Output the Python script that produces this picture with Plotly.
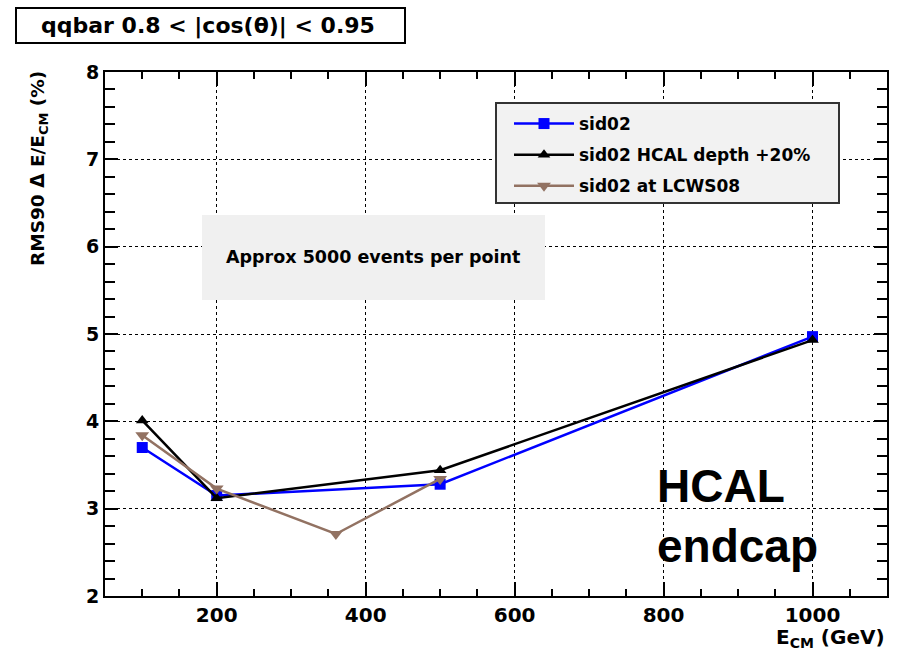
import plotly.graph_objects as go

# ---- data ----
ecm_sid02 = [100, 200, 500, 1000]
rms_sid02 = [3.70, 3.15, 3.28, 4.97]

ecm_depth = [100, 200, 500, 1000]
rms_depth = [4.01, 3.12, 3.44, 4.93]

ecm_lcws = [100, 200, 360, 500]
rms_lcws = [3.84, 3.23, 2.71, 3.34]

names = ["sid02", "sid02 HCAL depth +20%", "sid02 at LCWS08"]

FONT = "DejaVu Sans, sans-serif"
FONT2 = "Liberation Sans, Arial, sans-serif"

W, H = 901, 652
L, R, T, B = 105, 887, 72, 596  # plot area in pixels


def px(x):
    return (x - L) / (R - L)


def py(y):
    return (B - y) / (B - T)


fig = go.Figure()
fig.add_trace(go.Scatter(x=ecm_sid02, y=rms_sid02, name=names[0], mode="lines+markers",
                         legendgroup="a",
                         line=dict(color="#0000ff", width=2.5),
                         marker=dict(symbol="square", size=11, color="#0000ff")))
fig.add_trace(go.Scatter(x=ecm_depth, y=rms_depth, name=names[1], mode="lines+markers",
                         legendgroup="b",
                         line=dict(color="#000000", width=2.5),
                         marker=dict(symbol="triangle-up", size=11, color="#000000")))
fig.add_trace(go.Scatter(x=ecm_lcws, y=rms_lcws, name=names[2], mode="lines+markers",
                         legendgroup="c",
                         line=dict(color="#927262", width=2.5),
                         marker=dict(symbol="triangle-down", size=12, color="#927262")))

axis_common = dict(
    showline=True, linecolor="black", linewidth=2, mirror="ticks",
    ticks="inside", tickcolor="black", tickwidth=1.5,
    showgrid=True, gridcolor="black", griddash="dot", gridwidth=1,
    zeroline=False,
)

fig.update_xaxes(range=[50, 1100], dtick=200, tick0=0, ticklen=14,
                 tickfont=dict(family=FONT, size=20, color="black", weight="bold"),
                 minor=dict(dtick=50, ticks="inside", ticklen=7, tickcolor="black",
                            tickwidth=1.5, showgrid=False),
                 **axis_common)
fig.update_yaxes(range=[2, 8], dtick=1, tick0=0, ticklen=13,
                 tickfont=dict(family=FONT, size=19, color="black", weight="bold"),
                 minor=dict(dtick=0.2, ticks="inside", ticklen=10, tickcolor="black",
                            tickwidth=1.5, showgrid=False),
                 **axis_common)

shapes = [
    # title box
    dict(type="rect", xref="paper", yref="paper",
         x0=px(16), x1=px(405), y0=py(43), y1=py(8),
         line=dict(color="black", width=2), fillcolor="white", layer="above"),
    # grey info box
    dict(type="rect", xref="paper", yref="paper",
         x0=px(202), x1=px(545), y0=py(300), y1=py(215),
         line=dict(width=0), fillcolor="#f0f0f0", layer="above"),
    # legend box
    dict(type="rect", xref="paper", yref="paper",
         x0=px(496), x1=px(839), y0=py(203), y1=py(103),
         line=dict(color="#333333", width=2), fillcolor="#f2f2f2", layer="above"),
]

annotations = [
    dict(text="qqbar 0.8 < |cos(θ)| < 0.95", xref="paper", yref="paper",
         x=px(208), y=py(26), xanchor="center", yanchor="middle", showarrow=False,
         font=dict(family=FONT, size=22, color="black", weight="bold")),
    dict(text="Approx 5000 events per point", xref="paper", yref="paper",
         x=px(373), y=py(257), xanchor="center", yanchor="middle", showarrow=False,
         font=dict(family=FONT, size=17.5, color="black", weight="bold")),
    dict(text="HCAL<br>endcap", xref="paper", yref="paper",
         x=px(655), y=py(516), xanchor="left", yanchor="middle", showarrow=False,
         align="left",
         font=dict(family=FONT2, size=46, color="black", weight="bold")),
    dict(text="RMS90 Δ E/E<sub>CM</sub> (%)", xref="paper", yref="paper",
         x=px(39), y=py(169), xanchor="center", yanchor="middle", showarrow=False,
         textangle=-90,
         font=dict(family=FONT, size=18.5, color="black", weight="bold")),
    dict(text="E<sub>CM</sub> (GeV)", xref="paper", yref="paper",
         x=1, y=py(638), xanchor="right", yanchor="middle", showarrow=False,
         font=dict(family=FONT, size=20, color="black", weight="bold")),
]

fig.update_layout(
    width=W, height=H,
    margin=dict(l=L, r=W - R, t=T, b=H - B),
    paper_bgcolor="white", plot_bgcolor="white",
    font=dict(family=FONT, color="black"),
    shapes=shapes, annotations=annotations,
    legend=dict(x=px(509), y=py(106), xanchor="left", yanchor="top",
                bgcolor="rgba(0,0,0,0)", borderwidth=0,
                font=dict(family=FONT, size=17, color="black", weight="bold"),
                itemwidth=60, tracegroupgap=6),
    showlegend=True,
)

fig.write_html("out.html")
